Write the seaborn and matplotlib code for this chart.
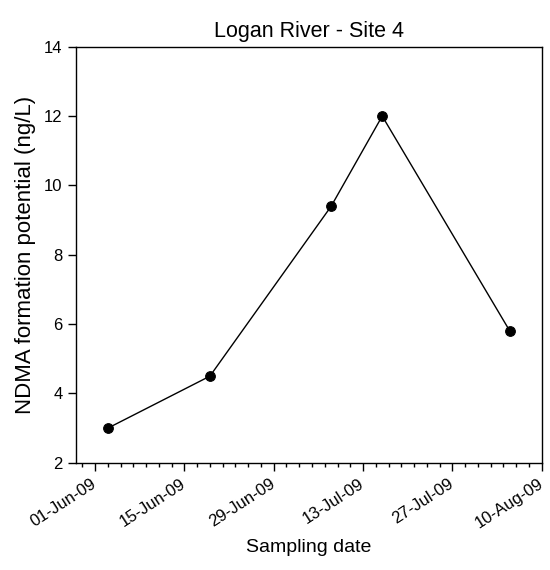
import pandas as pd
import seaborn as sns
import matplotlib.pyplot as plt
import matplotlib.dates as mdates

# Sampling data
sample_dates = ["2009-06-03", "2009-06-19", "2009-07-08", "2009-07-16", "2009-08-05"]
ndma_fp = [3.0, 4.5, 9.4, 12.0, 5.8]

df = pd.DataFrame({"date": pd.to_datetime(sample_dates), "ndma": ndma_fp})

sns.set_style("ticks", {"text.color": "black", "axes.labelcolor": "black",
                        "xtick.color": "black", "ytick.color": "black",
                        "axes.edgecolor": "black"})
plt.rcParams['font.family'] = ['Liberation Sans', 'DejaVu Sans']

fig = plt.figure(figsize=(5.5, 5.7), dpi=100)
ax = fig.add_axes([0.138, 0.188, 0.847, 0.730])

sns.lineplot(data=df, x="date", y="ndma", ax=ax, color="black", linewidth=1,
             marker="o", markersize=7, markeredgecolor="black")

ax.set_xlim(pd.Timestamp("2009-05-29"), pd.Timestamp("2009-08-10"))
ax.set_ylim(2, 14)
ax.set_yticks([2, 4, 6, 8, 10, 12, 14])

major = pd.date_range("2009-06-01", "2009-08-10", freq="14D")
ax.set_xticks(major)
ax.xaxis.set_major_formatter(mdates.DateFormatter("%d-%b-%y"))
ax.set_xticks(pd.date_range("2009-05-30", "2009-08-10", freq="2D"), minor=True)

ax.tick_params(axis="x", which="major", length=6, width=1, labelsize=12,
               rotation=33, pad=8)
ax.tick_params(axis="x", which="minor", length=3, width=1)
ax.tick_params(axis="y", length=6, width=1, labelsize=12)
for lbl in ax.get_xticklabels():
    lbl.set_ha("right")
    lbl.set_va("center")
    lbl.set_rotation_mode("anchor")

for s in ax.spines.values():
    s.set_visible(True)
    s.set_linewidth(1)

ax.set_title("Logan River - Site 4", fontsize=15.5, pad=7)
ax.set_xlabel("Sampling date", fontsize=14, labelpad=6)
ax.set_ylabel("NDMA formation potential (ng/L)", fontsize=16, labelpad=6)

fig.savefig("out.png", dpi=100)
